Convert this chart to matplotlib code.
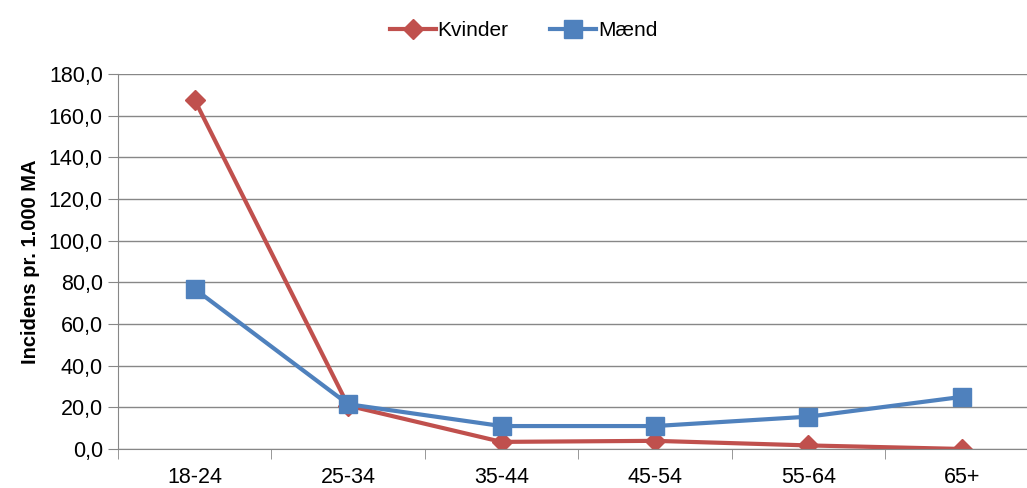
import matplotlib
matplotlib.use("Agg")
import matplotlib.pyplot as plt
import numpy as np

plt.rcParams["font.family"] = ["Liberation Sans", "DejaVu Sans"]

CATEGORIES = ["18-24", "25-34", "35-44", "45-54", "55-64", "65+"]
KVINDER = [167.5, 20.8, 3.4, 3.9, 1.7, 0.0]
MAEND = [76.8, 21.5, 11.0, 11.0, 15.5, 25.0]
Y_TICKS = [0, 20, 40, 60, 80, 100, 120, 140, 160, 180]

RED = "#c0504d"
BLUE = "#4f81bd"
GRID = "#878787"

fig = plt.figure(figsize=(10.27, 4.88), dpi=100)
# category axis runs past the right edge of the image, as in the original
ax = fig.add_axes([0.115, 0.08, 0.896, 0.768])

x = np.arange(len(CATEGORIES))
ax.plot(x, KVINDER, color=RED, lw=3, marker="D", ms=10.5, label="Kvinder")
ax.plot(x, MAEND, color=BLUE, lw=3, marker="s", ms=12.5, label="Mænd")

ax.set_xlim(-0.5, len(CATEGORIES) - 0.5)
ax.set_ylim(0, 180)
ax.set_yticks(Y_TICKS)
ax.set_yticklabels([f"{v:.1f}".replace(".", ",") for v in Y_TICKS], fontsize=15.5)
ax.set_xticks(x)
ax.set_xticklabels(CATEGORIES, fontsize=15.5)
ax.tick_params(axis="x", length=0, pad=13)
ax.set_xticks(np.arange(-0.5, len(CATEGORIES)), minor=True)
ax.tick_params(axis="x", which="minor", length=7, color=GRID)
ax.tick_params(axis="y", length=7, color=GRID, pad=4)

ax.grid(axis="y", color=GRID, lw=1)
ax.set_axisbelow(True)
for s in ["top", "right"]:
    ax.spines[s].set_visible(False)
for s in ["left", "bottom"]:
    ax.spines[s].set_color(GRID)

ax.set_ylabel("Incidens pr. 1.000 MA", fontsize=14.5, fontweight="bold", labelpad=6)

fig.legend(loc="upper center", bbox_to_anchor=(0.51, 0.995), ncol=2,
           frameon=False, fontsize=15, handlelength=2.2, columnspacing=2.0,
           handletextpad=0.1)

fig.savefig("out.png", dpi=100, facecolor="white")
